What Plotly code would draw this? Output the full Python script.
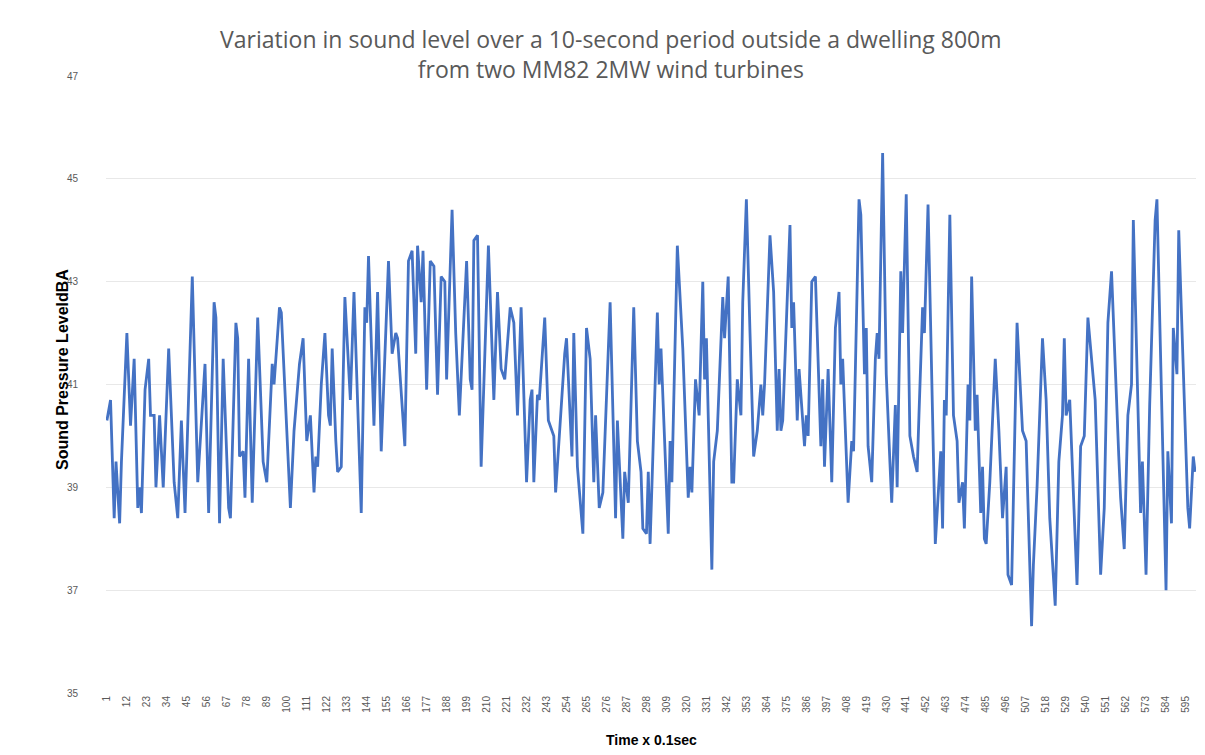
import plotly.graph_objects as go

# sample index (x 0.1 s) at each visible vertex
time_idx = [
    1, 3, 5, 6, 8, 9, 12, 14, 16, 18,
    19, 20, 22, 24, 25, 27, 28, 30, 32, 35,
    38, 40, 42, 44, 48, 51, 55, 57, 60, 61,
    63, 65, 68, 69, 72, 73, 74, 76, 77, 79,
    81, 84, 87, 89, 92, 93, 96, 97, 102, 104,
    107, 109, 111, 113, 115, 116, 117, 119, 121, 123,
    124, 125, 127, 128, 130, 132, 135, 137, 141, 143,
    144, 145, 148, 150, 152, 156, 158, 160, 161, 165,
    167, 169, 171, 172, 174, 175, 177, 179, 181, 183,
    185, 187, 188, 191, 193, 195, 199, 201, 202, 203,
    205, 207, 211, 214, 216, 218, 220, 223, 225, 227,
    229, 232, 234, 235, 236, 238, 239, 242, 244, 247,
    248, 251, 253, 254, 257, 258, 260, 263, 265, 267,
    269, 270, 272, 274, 278, 281, 282, 285, 286, 288,
    291, 293, 295, 296, 298, 299, 300, 304, 305, 306,
    310, 311, 312, 315, 318, 321, 322, 323, 325, 327,
    329, 330, 331, 334, 335, 337, 340, 341, 343, 345,
    346, 348, 350, 351, 353, 355, 357, 359, 361, 362,
    363, 366, 368, 370, 371, 372, 373, 377, 378, 379,
    381, 382, 385, 386, 387, 389, 391, 394, 395, 396,
    398, 400, 402, 404, 405, 406, 409, 411, 412, 413,
    415, 416, 418, 419, 420, 422, 423, 424, 425, 426,
    428, 430, 432, 433, 435, 436, 438, 439, 441, 443,
    445, 447, 448, 450, 451, 453, 457, 460, 461, 462,
    463, 465, 467, 469, 470, 472, 473, 475, 476, 477,
    479, 480, 482, 483, 484, 485, 487, 489, 490, 492,
    494, 496, 497, 499, 502, 505, 507, 510, 511, 513,
    516, 518, 520, 523, 525, 527, 528, 529, 531, 535,
    537, 539, 541, 545, 548, 550, 552, 554, 555, 558,
    559, 561, 563, 565, 566, 568, 570, 571, 573, 575,
    578, 579, 584, 585, 587, 588, 590, 591, 594, 596,
    597, 599, 600,
]

# sound pressure level, dBA
spl_dba = [
    40.3, 40.7, 38.4, 39.5, 38.3, 39.5, 42.0, 40.2, 41.5, 38.6,
    39.0, 38.5, 40.9, 41.5, 40.4, 40.4, 39.0, 40.4, 39.0, 41.7,
    39.1, 38.4, 40.3, 38.5, 43.1, 39.1, 41.4, 38.5, 42.6, 42.3,
    38.3, 41.5, 38.6, 38.4, 42.2, 41.9, 39.6, 39.7, 38.8, 41.5,
    38.7, 42.3, 39.5, 39.1, 41.4, 41.0, 42.5, 42.4, 38.6, 40.1,
    41.4, 41.9, 39.9, 40.4, 38.9, 39.6, 39.4, 41.0, 42.0, 40.4,
    40.2, 41.7, 39.9, 39.3, 39.4, 42.7, 40.7, 42.8, 38.5, 42.5,
    42.2, 43.5, 40.2, 42.8, 39.7, 43.4, 41.6, 42.0, 41.9, 39.8,
    43.4, 43.6, 41.6, 43.7, 42.6, 43.6, 40.9, 43.4, 43.3, 40.8,
    43.1, 43.0, 41.1, 44.4, 42.0, 40.4, 43.4, 41.1, 40.9, 43.8,
    43.9, 39.4, 43.7, 40.7, 42.8, 41.3, 41.1, 42.5, 42.2, 40.4,
    42.5, 39.1, 40.7, 40.9, 39.1, 40.8, 40.7, 42.3, 40.3, 40.0,
    38.9, 40.6, 41.6, 41.9, 39.6, 42.0, 39.4, 38.1, 42.1, 41.5,
    39.1, 40.4, 38.6, 38.9, 42.6, 38.4, 40.3, 38.0, 39.3, 38.7,
    42.5, 39.9, 39.3, 38.2, 38.1, 39.3, 37.9, 42.4, 41.0, 41.7,
    38.1, 39.9, 39.1, 43.7, 41.7, 38.8, 39.4, 38.9, 41.1, 40.4,
    43.0, 41.1, 41.9, 37.4, 39.5, 40.1, 42.7, 41.9, 43.1, 39.1,
    39.1, 41.1, 40.4, 42.6, 44.6, 42.0, 39.6, 40.1, 41.0, 40.4,
    41.0, 43.9, 42.8, 40.1, 41.3, 40.1, 40.3, 44.1, 42.1, 42.6,
    40.3, 41.3, 39.8, 40.4, 40.0, 43.0, 43.1, 39.8, 41.1, 39.4,
    41.3, 39.1, 42.1, 42.8, 41.0, 41.5, 38.7, 39.9, 39.7, 41.3,
    44.6, 44.3, 41.2, 42.1, 39.8, 39.1, 40.1, 41.5, 42.0, 41.5,
    45.5, 41.2, 39.5, 38.7, 40.6, 39.0, 43.2, 42.0, 44.7, 40.0,
    39.6, 39.3, 40.4, 42.5, 42.0, 44.5, 37.9, 39.7, 38.2, 40.7,
    40.4, 44.3, 40.4, 39.9, 38.7, 39.1, 38.2, 41.0, 40.3, 43.1,
    40.1, 40.8, 38.5, 39.4, 38.0, 37.9, 39.1, 40.8, 41.5, 40.1,
    38.4, 39.4, 37.3, 37.1, 42.2, 40.1, 39.9, 36.3, 37.5, 39.0,
    41.9, 40.7, 38.4, 36.7, 39.5, 40.4, 41.9, 40.4, 40.7, 37.1,
    39.8, 40.0, 42.3, 40.7, 37.3, 38.6, 42.2, 43.2, 42.2, 39.6,
    38.8, 37.8, 40.4, 41.0, 44.2, 41.1, 38.5, 39.5, 37.3, 40.6,
    44.2, 44.6, 37.0, 39.7, 38.3, 42.1, 41.2, 44.0, 40.8, 38.6,
    38.2, 39.6, 39.3,
]

x_ticks = list(range(1, 600, 11))
y_ticks = [35, 37, 39, 41, 43, 45, 47]

fig = go.Figure()
fig.add_trace(
    go.Scatter(
        x=time_idx,
        y=spl_dba,
        mode="lines",
        line=dict(color="#4472c4", width=2.8),
        showlegend=False,
    )
)

# page body adds 8px, so the figure is sized to sit inside the window
fig.update_layout(
    width=1189,
    height=739,
    margin=dict(l=98, r=1, t=68, b=54),
    plot_bgcolor="white",
    paper_bgcolor="white",
    title=dict(
        text="Variation in sound level over a 10-second period outside a dwelling 800m<br>from two MM82 2MW wind turbines",
        x=0.507,
        xanchor="center",
        y=0.946,
        yanchor="middle",
        font=dict(family="Open Sans", size=23, color="#595959"),
    ),
)
fig.update_xaxes(
    range=[0.5, 600.5],
    tickvals=x_ticks,
    tickangle=-90,
    tickfont=dict(family="Liberation Sans Narrow, Liberation Sans", size=10, color="#595959"),
    showgrid=False,
    zeroline=False,
)
fig.update_yaxes(
    range=[35, 47],
    tickvals=y_ticks,
    tickfont=dict(family="Liberation Sans", size=10, color="#595959"),
    ticklabelstandoff=27,
    showgrid=True,
    gridcolor="#e8e8e8",
    gridwidth=1,
    zeroline=False,
)

# axis titles
fig.add_annotation(
    text="<b>Sound Pressure LeveldBA</b>",
    xref="paper", yref="paper",
    x=-0.0404, y=0.525,
    xanchor="center", yanchor="middle",
    textangle=-90,
    showarrow=False,
    font=dict(family="Liberation Sans Narrow, Liberation Sans", size=16, color="black"),
)
fig.add_annotation(
    text="<b>Time x 0.1sec</b>",
    xref="paper", yref="paper",
    x=0.5, y=-0.076,
    xanchor="center", yanchor="middle",
    showarrow=False,
    font=dict(family="Liberation Sans Narrow, Liberation Sans", size=14, color="black"),
)

fig.write_html("out.html")
